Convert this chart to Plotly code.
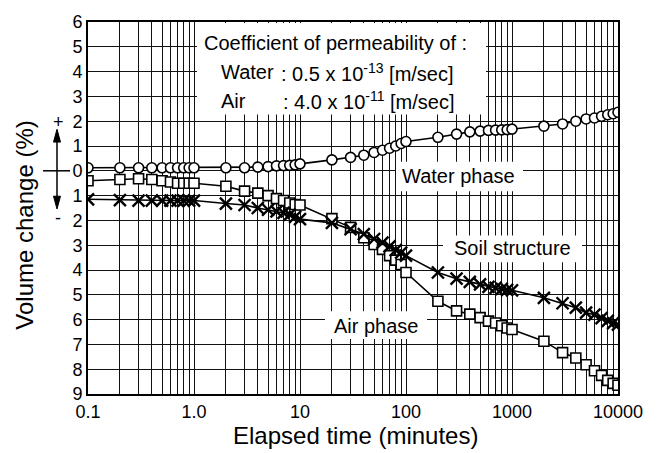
import plotly.graph_objects as go

# ---------------- data ----------------
time_min = [0.1, 0.2, 0.3, 0.4, 0.5, 0.6, 0.7, 0.8, 0.9, 1.0,
            2, 3, 4, 5, 6, 7, 8, 9, 10,
            20, 30, 40, 50, 60, 70, 80, 90, 100,
            200, 300, 400, 500, 600, 700, 800, 900, 1000,
            2000, 3000, 4000, 5000, 6000, 7000, 8000, 9000, 10000]

water_phase = [0.12, 0.12, 0.12, 0.12, 0.12, 0.12, 0.12, 0.12, 0.12, 0.12,
               0.12, 0.12, 0.15, 0.17, 0.20, 0.21, 0.22, 0.24, 0.28,
               0.44, 0.54, 0.63, 0.74, 0.83, 0.91, 1.00, 1.10, 1.18,
               1.35, 1.48, 1.57, 1.60, 1.63, 1.64, 1.65, 1.66, 1.68,
               1.80, 1.89, 2.00, 2.09, 2.13, 2.20, 2.26, 2.30, 2.36]

air_phase = [-0.40, -0.35, -0.32, -0.35, -0.40, -0.45, -0.50, -0.50, -0.50, -0.50,
             -0.62, -0.82, -0.90, -1.00, -1.12, -1.20, -1.30, -1.36, -1.38,
             -1.93, -2.28, -2.70, -2.97, -3.17, -3.42, -3.60, -3.78, -4.10,
             -5.26, -5.65, -5.78, -5.92, -6.06, -6.14, -6.25, -6.34, -6.40,
             -6.87, -7.33, -7.55, -7.82, -8.06, -8.25, -8.45, -8.57, -8.65]

soil_structure = [-1.15, -1.18, -1.20, -1.20, -1.20, -1.20, -1.20, -1.20, -1.20, -1.20,
                  -1.32, -1.38, -1.50, -1.57, -1.64, -1.70, -1.77, -1.86, -1.95,
                  -2.10, -2.35, -2.55, -2.75, -2.90, -3.05, -3.20, -3.30, -3.42,
                  -4.10, -4.35, -4.48, -4.58, -4.68, -4.72, -4.76, -4.80, -4.82,
                  -5.12, -5.34, -5.52, -5.72, -5.80, -5.94, -6.05, -6.14, -6.20]

x_grid_vals = [m * 10 ** e for e in range(-1, 4) for m in range(1, 10)] + [10000]
x_major_labels = {0.1: "0.1", 1: "1.0", 10: "10", 100: "100", 1000: "1000", 10000: "10000"}
y_tick_vals = list(range(-9, 7))
y_tick_text = [str(abs(v)) for v in y_tick_vals]

# ---------------- layout helpers ----------------
W, H = 658, 453
L, R, T, B = 88, 618, 16, 394
XLOG_MIN, XLOG_MAX = -1, 4
Y_MIN, Y_MAX = -9, 6
FONT = "Liberation Sans, Arial, Helvetica, sans-serif"


def px(xp):
    return (xp - L) / (R - L)


def py(yp):
    return (B - yp) / (B - T)


def dx(xp):
    # pixel -> data x (log axis)
    return 10 ** (XLOG_MIN + px(xp) * (XLOG_MAX - XLOG_MIN))


def dy(yp):
    return Y_MIN + py(yp) * (Y_MAX - Y_MIN)


x_tick_text = []
for v in x_grid_vals:
    lab = ""
    for k, s in x_major_labels.items():
        if abs(v - k) < 1e-9 * max(1, k):
            lab = s
    x_tick_text.append(lab)

fig = go.Figure()

line_style = dict(color="black", width=1.6)
fig.add_trace(go.Scatter(x=time_min, y=water_phase, mode="lines+markers",
                         line=line_style,
                         marker=dict(symbol="circle", size=10, color="white",
                                     line=dict(color="black", width=1.6)),
                         name="Water phase"))
fig.add_trace(go.Scatter(x=time_min, y=air_phase, mode="lines+markers",
                         line=line_style,
                         marker=dict(symbol="square", size=10, color="white",
                                     line=dict(color="black", width=1.6)),
                         name="Air phase"))
fig.add_trace(go.Scatter(x=time_min, y=soil_structure, mode="lines+markers",
                         line=line_style,
                         marker=dict(symbol="x-thin", size=12, color="black",
                                     line=dict(color="black", width=2.4)),
                         name="Soil structure"))

shapes = []
# white boxes covering the grid behind the text labels (between grid and traces)
for (x0, y0, x1, y1) in [(197, 17, 486, 110), (396, 158, 523, 188),
                         (443, 233, 582, 260), (325, 310, 427, 338)]:
    shapes.append(dict(type="rect", xref="x", yref="y",
                       x0=dx(x0), x1=dx(x1), y0=dy(y1), y1=dy(y0),
                       fillcolor="white", line=dict(width=0), layer="between"))
# small zero dash left of axis
shapes.append(dict(type="line", xref="paper", yref="y", x0=px(43), x1=px(70),
                   y0=0, y1=0, line=dict(color="black", width=1.5)))
# vertical +/- arrow (shaft and two heads)
shapes.append(dict(type="line", xref="paper", yref="paper", x0=px(57), x1=px(57),
                   y0=py(134), y1=py(198), line=dict(color="black", width=1.5)))
for tip, base in [(125, 138), (206, 193)]:
    path = "M {:.5f} {:.5f} L {:.5f} {:.5f} L {:.5f} {:.5f} Z".format(
        px(57), py(tip), px(53.5), py(base), px(60.5), py(base))
    shapes.append(dict(type="path", xref="paper", yref="paper", path=path,
                       fillcolor="black", line=dict(color="black", width=1)))

ann = []
tf = dict(family=FONT, size=20, color="black")
ann.append(dict(text="Coefficient of permeability of :", xref="paper", yref="paper",
                x=px(202), y=py(37), xanchor="left", yanchor="middle",
                showarrow=False, font=tf))
ann.append(dict(text="Water", xref="paper", yref="paper", x=px(219), y=py(67),
                xanchor="left", yanchor="middle", showarrow=False, font=tf))
ann.append(dict(text=": 0.5 x 10<sup>-13</sup> [m/sec]", xref="paper", yref="paper",
                x=px(279), y=py(67), xanchor="left", yanchor="middle",
                showarrow=False, font=tf))
ann.append(dict(text="Air", xref="paper", yref="paper", x=px(219), y=py(96),
                xanchor="left", yanchor="middle", showarrow=False, font=tf))
ann.append(dict(text=": 4.0 x 10<sup>-11</sup> [m/sec]", xref="paper", yref="paper",
                x=px(281), y=py(96), xanchor="left", yanchor="middle",
                showarrow=False, font=tf))
ann.append(dict(text="Water phase", xref="paper", yref="paper", x=px(458), y=py(172),
                xanchor="center", yanchor="middle", showarrow=False, font=tf))
ann.append(dict(text="Soil structure", xref="paper", yref="paper", x=px(512), y=py(246),
                xanchor="center", yanchor="middle", showarrow=False, font=tf))
ann.append(dict(text="Air phase", xref="paper", yref="paper", x=px(376), y=py(325),
                xanchor="center", yanchor="middle", showarrow=False, font=tf))
# axis titles
ann.append(dict(text="Elapsed time (minutes)", xref="paper", yref="paper",
                x=px(355), y=py(436), xanchor="center", yanchor="middle",
                showarrow=False, font=dict(family=FONT, size=24, color="black")))
ann.append(dict(text="Volume change (%)", xref="paper", yref="paper",
                x=px(25), y=py(223), xanchor="center", yanchor="middle",
                textangle=-90, showarrow=False,
                font=dict(family=FONT, size=24, color="black")))
ann.append(dict(text="+", xref="paper", yref="paper", x=px(58), y=py(118),
                xanchor="center", yanchor="middle", showarrow=False,
                font=dict(family=FONT, size=18, color="black")))
ann.append(dict(text="-", xref="paper", yref="paper", x=px(58), y=py(215),
                xanchor="center", yanchor="middle", showarrow=False,
                font=dict(family=FONT, size=18, color="black")))

fig.update_layout(
    width=W, height=H,
    margin=dict(l=L, r=W - R, t=T, b=H - B, pad=0),
    paper_bgcolor="white", plot_bgcolor="white",
    showlegend=False,
    font=dict(family=FONT, size=18, color="black"),
    shapes=shapes, annotations=ann,
    xaxis=dict(type="log", range=[XLOG_MIN, XLOG_MAX], tickmode="array",
               tickvals=x_grid_vals, ticktext=x_tick_text,
               showgrid=True, gridcolor="#111111", gridwidth=1,
               showline=True, mirror=True, linecolor="black", linewidth=2,
               ticks="", zeroline=False,
               tickfont=dict(family=FONT, size=18, color="black")),
    yaxis=dict(range=[Y_MIN, Y_MAX], tickmode="array", tickvals=y_tick_vals,
               ticktext=y_tick_text,
               showgrid=True, gridcolor="#111111", gridwidth=1,
               showline=True, mirror=True, linecolor="black", linewidth=2,
               ticks="", zeroline=False,
               tickfont=dict(family=FONT, size=18, color="black")),
)

fig.write_html("out.html")
